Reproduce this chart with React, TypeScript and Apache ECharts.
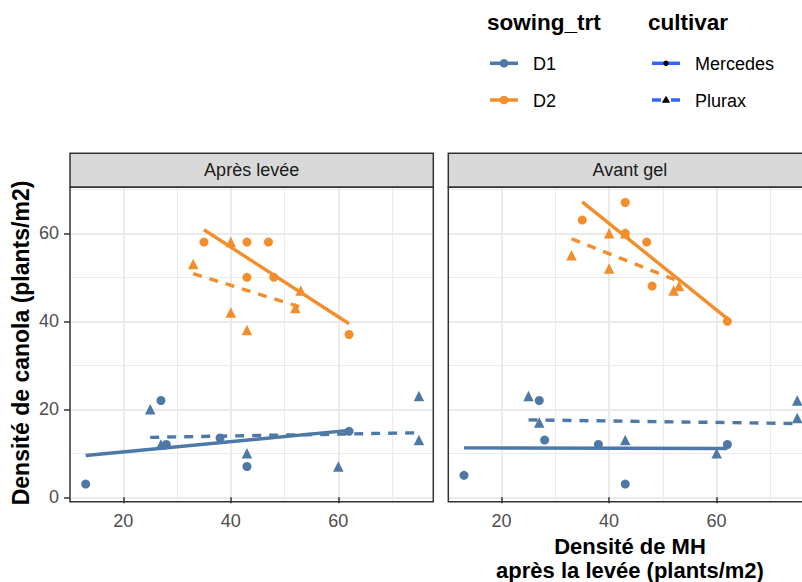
import React, { useEffect, useRef } from "react";
import * as echarts from "echarts";

// ---------- data ----------
const facets = ["Après levée", "Avant gel"];
const sowingLevels = ["D1", "D2"];
const cultivars = ["Mercedes", "Plurax"];
const sowingColors = ["#4E79A7", "#F28E2B"];

// MH density after emergence (x) — same plots in both facets
const xD1Mercedes = [13, 27, 28, 38, 43, 62];
const xD1Plurax = [25, 27, 43, 60, 75, 75];
const xD2Mercedes = [35, 43, 47, 43, 48, 62];
const xD2Plurax = [33, 40, 53, 52, 40, 43];

// canola density — "Après levée"
const yApresD1Mercedes = [3, 22, 12, 13.5, 7, 15];
const yApresD1Plurax = [20, 12, 10, 7, 23, 13];
const yApresD2Mercedes = [58, 58, 58, 50, 50, 37];
const yApresD2Plurax = [53, 58, 47, 43, 42, 38];

// canola density — "Avant gel"
const yAvantD1Mercedes = [5, 22, 13, 12, 3, 12];
const yAvantD1Plurax = [23, 17, 13, 10, 22, 18];
const yAvantD2Mercedes = [63, 67, 58, 60, 48, 40];
const yAvantD2Plurax = [55, 60, 48, 47, 52, 60];

const xTicks = [20, 40, 60];
const xMinor = [10, 30, 50, 70];
const yTicks = [0, 20, 40, 60];
const yMinor = [10, 30, 50, 70];

const X_RANGE = [10.08, 77.67];
const Y_RANGE = [-1.0, 70.45];

const xBySowingCultivar = [
  [xD1Mercedes, xD1Plurax],
  [xD2Mercedes, xD2Plurax],
];
const yByFacet = [
  [
    [yApresD1Mercedes, yApresD1Plurax],
    [yApresD2Mercedes, yApresD2Plurax],
  ],
  [
    [yAvantD1Mercedes, yAvantD1Plurax],
    [yAvantD2Mercedes, yAvantD2Plurax],
  ],
];

// ---------- layout ----------
const FONT = "'Liberation Sans', Arial, Helvetica, sans-serif";
const PANEL_LEFT = [70, 448.3];
const PANEL_TOP = 187.3;
const PANEL_W = 363.3;
const PANEL_H = 314.4;
const STRIP_TOP = 153.3;

function lmLine(xs: number[], ys: number[]) {
  const n = xs.length;
  const mx = xs.reduce((a, b) => a + b, 0) / n;
  const my = ys.reduce((a, b) => a + b, 0) / n;
  let sxy = 0;
  let sxx = 0;
  for (let i = 0; i < n; i++) {
    sxy += (xs[i] - mx) * (ys[i] - my);
    sxx += (xs[i] - mx) * (xs[i] - mx);
  }
  const b = sxy / sxx;
  const a = my - b * mx;
  const x0 = Math.min(...xs);
  const x1 = Math.max(...xs);
  return [
    [x0, a + b * x0],
    [x1, a + b * x1],
  ];
}

function buildOption() {
  const series: any[] = [];
  facets.forEach((_, fi) => {
    // grid lines via markLine
    const gridData: any[] = [];
    xMinor.forEach((v) => gridData.push({ xAxis: v, lineStyle: { width: 1, color: "#EBEBEB", type: "solid" } }));
    yMinor.forEach((v) => gridData.push({ yAxis: v, lineStyle: { width: 1, color: "#EBEBEB", type: "solid" } }));
    xTicks.forEach((v) => gridData.push({ xAxis: v, lineStyle: { width: 2, color: "#EBEBEB", type: "solid" } }));
    yTicks.forEach((v) => gridData.push({ yAxis: v, lineStyle: { width: 2, color: "#EBEBEB", type: "solid" } }));
    series.push({
      type: "line",
      xAxisIndex: fi,
      yAxisIndex: fi,
      data: [],
      silent: true,
      z: 0,
      markLine: {
        z: 0,
        silent: true,
        symbol: ["none", "none"],
        label: { show: false },
        emphasis: { disabled: true },
        animation: false,
        data: gridData,
      },
    });
    sowingLevels.forEach((s, si) => {
      cultivars.forEach((c, ci) => {
        const xs = xBySowingCultivar[si][ci];
        const ys = yByFacet[fi][si][ci];
        series.push({
          name: `${s} ${c}`,
          type: "scatter",
          xAxisIndex: fi,
          yAxisIndex: fi,
          z: 3,
          symbol: ci === 0 ? "circle" : "triangle",
          symbolSize: ci === 0 ? 9 : 10.5,
          itemStyle: { color: sowingColors[si], opacity: 1 },
          data: xs.map((x, i) => [x, ys[i]]),
        });
        series.push({
          type: "line",
          xAxisIndex: fi,
          yAxisIndex: fi,
          z: 4,
          symbol: "none",
          silent: true,
          lineStyle: {
            color: sowingColors[si],
            width: 3.4,
            type: ci === 0 ? "solid" : [9, 8],
            cap: "butt",
          },
          data: lmLine(xs, ys),
        });
      });
    });
  });

  const graphic: any[] = [];
  facets.forEach((f, fi) => {
    const left = PANEL_LEFT[fi];
    graphic.push({
      type: "rect",
      silent: true,
      z: 50,
      shape: { x: left, y: STRIP_TOP, width: PANEL_W, height: PANEL_TOP - STRIP_TOP },
      style: { fill: "#D9D9D9", stroke: "#333333", lineWidth: 1.5 },
    });
    graphic.push({
      type: "text",
      silent: true,
      z: 51,
      x: left + PANEL_W / 2,
      y: (STRIP_TOP + PANEL_TOP) / 2,
      style: {
        text: f,
        font: `18px ${FONT}`,
        fill: "#1A1A1A",
        textAlign: "center",
        textVerticalAlign: "middle",
      },
    });
    graphic.push({
      type: "rect",
      silent: true,
      z: 100,
      shape: { x: left, y: PANEL_TOP, width: PANEL_W, height: PANEL_H },
      style: { fill: "none", stroke: "#333333", lineWidth: 1.5 },
    });
  });

  // axis titles
  graphic.push({
    type: "text",
    silent: true,
    x: 21,
    y: 343,
    rotation: Math.PI / 2,
    style: {
      text: "Densité de canola (plants/m2)",
      font: `bold 23px ${FONT}`,
      fill: "#000000",
      textAlign: "center",
      textVerticalAlign: "middle",
    },
  });
  graphic.push({
    type: "text",
    silent: true,
    x: 630,
    y: 546.5,
    style: {
      text: "Densité de MH",
      font: `bold 22px ${FONT}`,
      fill: "#000000",
      textAlign: "center",
      textVerticalAlign: "middle",
    },
  });
  graphic.push({
    type: "text",
    silent: true,
    x: 630,
    y: 570,
    style: {
      text: "après la levée (plants/m2)",
      font: `bold 22px ${FONT}`,
      fill: "#000000",
      textAlign: "center",
      textVerticalAlign: "middle",
    },
  });

  // legends
  const rowsY = [63.3, 100];
  graphic.push({
    type: "text",
    silent: true,
    x: 487,
    y: 22,
    style: { text: "sowing_trt", font: `bold 22.5px ${FONT}`, fill: "#000", textAlign: "left", textVerticalAlign: "middle" },
  });
  graphic.push({
    type: "text",
    silent: true,
    x: 648,
    y: 22,
    style: { text: "cultivar", font: `bold 22.5px ${FONT}`, fill: "#000", textAlign: "left", textVerticalAlign: "middle" },
  });
  sowingLevels.forEach((s, si) => {
    const y = rowsY[si];
    graphic.push({
      type: "line",
      silent: true,
      shape: { x1: 490, y1: y, x2: 518, y2: y },
      style: { stroke: sowingColors[si], lineWidth: 3.5 },
    });
    graphic.push({
      type: "circle",
      silent: true,
      shape: { cx: 504, cy: y, r: 4.3 },
      style: { fill: sowingColors[si] },
    });
    graphic.push({
      type: "text",
      silent: true,
      x: 533,
      y: y + 1,
      style: { text: s, font: `18px ${FONT}`, fill: "#000", textAlign: "left", textVerticalAlign: "middle" },
    });
  });
  cultivars.forEach((c, ci) => {
    const y = rowsY[ci];
    graphic.push({
      type: "line",
      silent: true,
      shape: { x1: 652, y1: y, x2: 680, y2: y },
      style: { stroke: "#3366FF", lineWidth: 3.5, lineDash: ci === 0 ? null : [9, 10] },
    });
    if (ci === 0) {
      graphic.push({
        type: "circle",
        silent: true,
        shape: { cx: 666, cy: y, r: 2.7 },
        style: { fill: "#000" },
      });
    } else {
      graphic.push({
        type: "polygon",
        silent: true,
        shape: { points: [[666, y - 4.2], [661.8, y + 2.8], [670.2, y + 2.8]] },
        style: { fill: "#000" },
      });
    }
    graphic.push({
      type: "text",
      silent: true,
      x: 695,
      y: y + 1,
      style: { text: c, font: `18px ${FONT}`, fill: "#000", textAlign: "left", textVerticalAlign: "middle" },
    });
  });

  return {
    animation: false,
    textStyle: { fontFamily: FONT },
    grid: facets.map((_, i) => ({
      left: PANEL_LEFT[i],
      top: PANEL_TOP,
      width: PANEL_W,
      height: PANEL_H,
      show: false,
      containLabel: false,
      outerBoundsMode: "none",
    })),
    xAxis: facets.map((_, i) => ({
      type: "value",
      gridIndex: i,
      min: X_RANGE[0],
      max: X_RANGE[1],
      axisLine: { show: false },
      axisTick: { show: true, length: 6, lineStyle: { color: "#333333", width: 1.5 }, customValues: xTicks },
      axisLabel: { show: true, customValues: xTicks, color: "#4D4D4D", fontSize: 18, margin: 10, fontFamily: FONT },
      splitLine: { show: false },
      minorSplitLine: { show: false },
    })),
    yAxis: facets.map((_, i) => ({
      type: "value",
      gridIndex: i,
      min: Y_RANGE[0],
      max: Y_RANGE[1],
      axisLine: { show: false },
      axisTick: { show: i === 0, length: 6, lineStyle: { color: "#333333", width: 1.5 }, customValues: yTicks },
      axisLabel: { show: i === 0, customValues: yTicks, color: "#4D4D4D", fontSize: 18, margin: 11, fontFamily: FONT },
      splitLine: { show: false },
      minorSplitLine: { show: false },
    })),
    series,
    graphic,
  };
}

export default function App() {
  const ref = useRef<HTMLDivElement>(null);
  useEffect(() => {
    if (!ref.current) return;
    const chart = echarts.init(ref.current, null, { renderer: "svg" });
    chart.setOption(buildOption() as any);
    return () => chart.dispose();
  }, []);
  return (
    <div
      ref={ref}
      style={{ position: "absolute", left: 0, top: 0, width: 802, height: 582, background: "#ffffff" }}
    />
  );
}
